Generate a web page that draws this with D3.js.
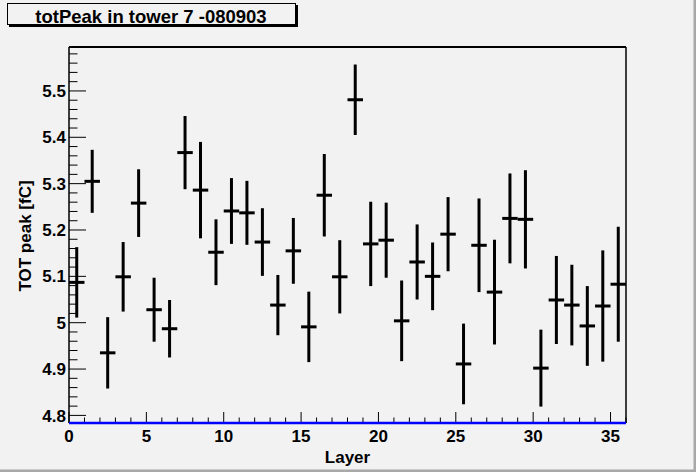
<!DOCTYPE html>
<html>
<head>
<meta charset="utf-8">
<script src="https://cdn.jsdelivr.net/npm/d3@7"></script>
<style>
  body { margin: 0; background: #f2f2f2; }
  text { font-family: "Liberation Sans", Arial, sans-serif; font-weight: bold; fill: #000; }
</style>
</head>
<body>
<div id="chart"></div>
<script>
// totPeak per layer, tower 7
const layers = d3.range(36);
const peakValues = [
  5.087, 5.305, 4.935, 5.099, 5.258, 5.028, 4.987, 5.367, 5.286, 5.152,
  5.241, 5.237, 5.174, 5.038, 5.155, 4.991, 5.275, 5.099, 5.481, 5.170,
  5.178, 5.004, 5.131, 5.100, 5.191, 4.911, 5.167, 5.066, 5.225, 5.223,
  4.902, 5.049, 5.038, 4.993, 5.036, 5.083
];
const peakErrors = [
  0.076, 0.068, 0.077, 0.075, 0.073, 0.069, 0.062, 0.079, 0.104, 0.071,
  0.071, 0.069, 0.073, 0.065, 0.071, 0.076, 0.089, 0.079, 0.076, 0.091,
  0.081, 0.087, 0.081, 0.073, 0.080, 0.087, 0.101, 0.113, 0.097, 0.106,
  0.083, 0.095, 0.087, 0.086, 0.120, 0.124
];
const xTicks = [0, 5, 10, 15, 20, 25, 30, 35];
const yTicks = [4.8, 4.9, 5, 5.1, 5.2, 5.3, 5.4, 5.5];
const title = 'totPeak in tower 7 -080903';

const W = 696, H = 472;
const plot = { left: 69, right: 626, top: 47, bottom: 423 };

const svg = d3.select('#chart').append('svg')
  .attr('width', W).attr('height', H);

// sfondo canvas con bordo
svg.append('rect').attr('width', W).attr('height', H).attr('fill', '#f2f2f2');
svg.append('line').attr('x1', W - 1).attr('x2', W - 1).attr('y1', 0).attr('y2', H)
  .attr('stroke', '#a8a8a8').attr('stroke-width', 3);
svg.append('line').attr('x1', 0).attr('x2', W).attr('y1', H - 1).attr('y2', H - 1)
  .attr('stroke', '#a8a8a8').attr('stroke-width', 3);

const x = d3.scaleLinear().domain([0, 36]).range([plot.left, plot.right]);
const y = d3.scaleLinear().domain([4.7836, 5.5948]).range([plot.bottom, plot.top]);

// tick minori e maggiori
const xMinor = d3.range(0, 37, 1);
const yMinor = d3.range(4.78, 5.595, 0.02).filter(v => v >= y.domain()[0]);

svg.append('g').selectAll('line').data(xMinor).join('line')
  .attr('x1', d => x(d)).attr('x2', d => x(d))
  .attr('y1', plot.bottom).attr('y2', d => plot.bottom - (d % 5 === 0 ? 11 : 5.5))
  .attr('stroke', '#000').attr('stroke-width', 1);

svg.append('g').selectAll('line').data(yMinor).join('line')
  .attr('y1', d => y(d)).attr('y2', d => y(d))
  .attr('x1', plot.left).attr('x2', d => plot.left + (Math.abs(Math.round(d * 10) - d * 10) < 1e-6 ? 17 : 8.5))
  .attr('stroke', '#000').attr('stroke-width', 1);

// etichette assi
svg.append('g').selectAll('text').data(xTicks).join('text')
  .attr('x', d => x(d)).attr('y', 442)
  .attr('text-anchor', 'middle').attr('font-size', 17)
  .text(d => d);

svg.append('g').selectAll('text').data(yTicks).join('text')
  .attr('x', 66).attr('y', d => y(d)).attr('dy', '0.36em')
  .attr('text-anchor', 'end').attr('font-size', 17)
  .text(d => d3.format('~g')(d));

svg.append('text')
  .attr('x', (plot.left + plot.right) / 2).attr('y', 463)
  .attr('text-anchor', 'middle').attr('font-size', 17)
  .text('Layer');

svg.append('text')
  .attr('transform', `translate(31,${(plot.top + plot.bottom) / 2 + 1}) rotate(-90)`)
  .attr('text-anchor', 'middle').attr('font-size', 17)
  .text('TOT peak [fC]');

// punti con barre di errore
const pts = svg.append('g');
layers.forEach(i => {
  const cx = x(i + 0.5);
  pts.append('line')
    .attr('x1', cx).attr('x2', cx)
    .attr('y1', y(peakValues[i] - peakErrors[i])).attr('y2', y(peakValues[i] + peakErrors[i]))
    .attr('stroke', '#000').attr('stroke-width', 3);
  pts.append('line')
    .attr('x1', x(i)).attr('x2', x(i + 1))
    .attr('y1', y(peakValues[i])).attr('y2', y(peakValues[i]))
    .attr('stroke', '#000').attr('stroke-width', 3);
});

// cornice
svg.append('line').attr('x1', plot.left).attr('x2', plot.left)
  .attr('y1', plot.top).attr('y2', plot.bottom).attr('stroke', '#000').attr('stroke-width', 1.5);
svg.append('line').attr('x1', plot.right).attr('x2', plot.right)
  .attr('y1', plot.top).attr('y2', plot.bottom).attr('stroke', '#000').attr('stroke-width', 1.5);
svg.append('line').attr('x1', plot.left).attr('x2', plot.right)
  .attr('y1', plot.top).attr('y2', plot.top).attr('stroke', '#000').attr('stroke-width', 2);
svg.append('line').attr('x1', plot.left).attr('x2', plot.right)
  .attr('y1', plot.bottom).attr('y2', plot.bottom).attr('stroke', '#0000ff').attr('stroke-width', 2.5);

// titolo
svg.append('rect').attr('x', 9).attr('y', 5).attr('width', 289).attr('height', 22).attr('fill', '#000');
svg.append('rect').attr('x', 7.5).attr('y', 3.5).attr('width', 288).attr('height', 21)
  .attr('fill', '#f2f2f2').attr('stroke', '#000').attr('stroke-width', 1);
svg.append('text')
  .attr('x', 151).attr('y', 22.5)
  .attr('text-anchor', 'middle').attr('font-size', 18.5)
  .text(title);
</script>
</body>
</html>
